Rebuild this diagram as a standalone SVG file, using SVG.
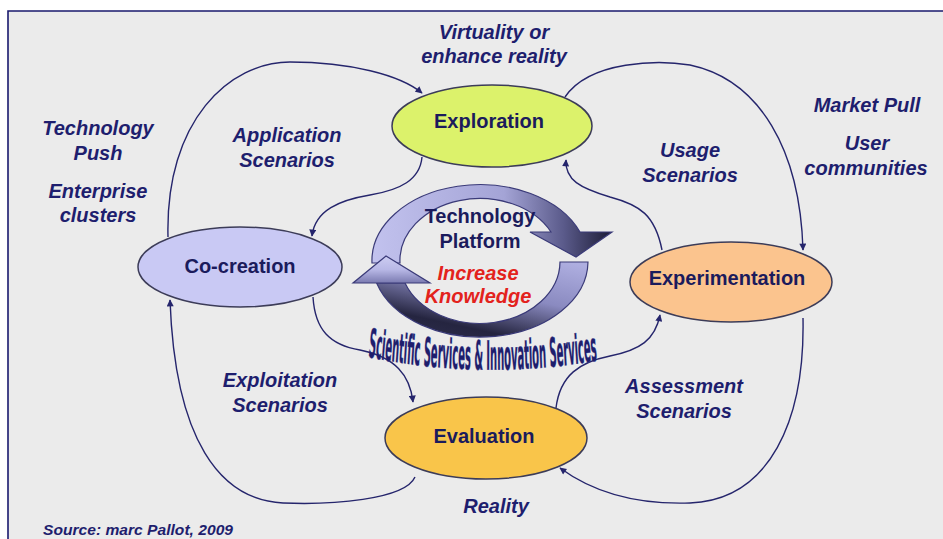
<svg xmlns="http://www.w3.org/2000/svg" width="943" height="539" viewBox="0 0 943 539">
<defs>
<style>
.node{stroke:#3c3c58;stroke-width:1.5}
.nt{font-family:"Liberation Sans",Arial,sans-serif;font-weight:bold;font-size:20px;fill:#1b1b5c;text-anchor:middle}
.lb{font-family:"Liberation Sans",Arial,sans-serif;font-weight:bold;font-style:italic;font-size:20px;fill:#1e1e6e;text-anchor:middle}
.red{font-family:"Liberation Sans",Arial,sans-serif;font-weight:bold;font-style:italic;font-size:20px;fill:#e3221c;text-anchor:middle}
.cn{fill:none;stroke:#25256c;stroke-width:1.4;marker-end:url(#ah)}
.ring{stroke:#3a3a78;stroke-width:1.2}
</style>
<marker id="ah" viewBox="0 0 10 10" refX="9" refY="5" markerWidth="8" markerHeight="7" markerUnits="userSpaceOnUse" orient="auto">
<path d="M0,0 L10,5 L0,10 Z" fill="#25256c"/>
</marker>
<linearGradient id="gTop" x1="0" y1="0" x2="1" y2="0">
<stop offset="0" stop-color="#c2c2ee"/>
<stop offset="0.55" stop-color="#a4a4d6"/>
<stop offset="0.8" stop-color="#5a5a8a"/>
<stop offset="1" stop-color="#1c1c36"/>
</linearGradient>
<linearGradient id="gBot" x1="0.9" y1="0" x2="0.3" y2="1">
<stop offset="0" stop-color="#aeaee0"/>
<stop offset="0.45" stop-color="#8a8ac0"/>
<stop offset="0.85" stop-color="#252540"/>
<stop offset="1" stop-color="#2a2a48"/>
</linearGradient>
<linearGradient id="gHead" x1="0" y1="1" x2="0" y2="0">
<stop offset="0" stop-color="#7a7ab0"/>
<stop offset="0.5" stop-color="#b8b8e6"/>
<stop offset="1" stop-color="#cdcdf2"/>
</linearGradient>
</defs>
<rect x="0" y="0" width="943" height="539" fill="#ffffff"/>
<rect x="8" y="11" width="935" height="528" fill="#ebebeb"/>
<path d="M8,539 L8,11 L943,11" fill="none" stroke="#1a1a6e" stroke-width="1.6"/>

<g id="connectors">
<path class="cn" d="M168,237 C165,120 230,62 290,62 C350,62 400,75 422,93"/>
<path class="cn" d="M422,157 C420,180 400,190 370,195 C340,200 315,210 312,236"/>
<path class="cn" d="M565,97 C590,60 660,60 690,65 C760,80 800,150 803,250"/>
<path class="cn" d="M662,250 C655,215 640,205 610,197 C580,188 565,180 566,160"/>
<path class="cn" d="M313,297 C315,330 330,345 360,350 C395,357 410,375 413,402"/>
<path class="cn" d="M415,477 C405,500 330,505 283,503 C220,500 175,440 170,300"/>
<path class="cn" d="M556,408 C560,375 580,362 610,356 C640,350 655,340 660,315"/>
<path class="cn" d="M803,318 C805,420 770,500 690,503 C630,505 590,490 560,468"/>
</g>

<g id="platform-cycle">
<path class="ring" fill="url(#gTop)" d="M372,263 A108,76 0 0,1 580,232 L612,232 L576,257 L530,232 L551,232 A80,62 0 0,0 400,263 Z"/>
<path class="ring" fill="url(#gBot)" d="M588,262 A108,76 0 0,1 376.6,283 L405,283 A80,62 0 0,0 560,262 Z"/>
<path class="ring" fill="url(#gHead)" d="M376.6,283 L353,283 L386,256 L430,283 L405,283 Z"/>
<text class="nt" x="480" y="223">Technology</text>
<text class="nt" x="480" y="248">Platform</text>
<text class="red" x="478" y="280">Increase</text>
<text class="red" x="478" y="303">Knowledge</text>
</g>

<g id="services-label">
<path id="arcPath" d="M368,238 Q484,254 600,240" fill="none"/>
<g transform="scale(1,1.5)">
<text font-family="'Liberation Sans Narrow','DejaVu Sans Condensed','Liberation Sans',sans-serif" font-weight="bold" font-size="27" fill="#1e1e6c" stroke="#3a3a90" stroke-width="0.3"><textPath href="#arcPath" textLength="230" lengthAdjust="spacingAndGlyphs">Scientific Services &amp; Innovation Services</textPath></text>
</g>
</g>

<g id="exploration">
<ellipse class="node" cx="492" cy="126" rx="100" ry="41" fill="#dcf26b"/>
<text class="nt" x="489" y="128">Exploration</text>
</g>
<g id="co-creation">
<ellipse class="node" cx="240" cy="267" rx="102" ry="40" fill="#c9c9f4"/>
<text class="nt" x="240" y="273">Co-creation</text>
</g>
<g id="experimentation">
<ellipse class="node" cx="731" cy="282" rx="101" ry="40" fill="#fbc48e"/>
<text class="nt" x="727" y="285">Experimentation</text>
</g>
<g id="evaluation">
<ellipse class="node" cx="486" cy="438" rx="101" ry="41" fill="#f9c54a"/>
<text class="nt" x="484" y="443">Evaluation</text>
</g>

<g id="labels">
<text class="lb" x="494" y="39">Virtuality or</text>
<text class="lb" x="494" y="63">enhance reality</text>
<text class="lb" x="98" y="135">Technology</text>
<text class="lb" x="98" y="160">Push</text>
<text class="lb" x="98" y="198">Enterprise</text>
<text class="lb" x="98" y="222">clusters</text>
<text class="lb" x="287" y="142">Application</text>
<text class="lb" x="287" y="167">Scenarios</text>
<text class="lb" x="690" y="157">Usage</text>
<text class="lb" x="690" y="182">Scenarios</text>
<text class="lb" x="867" y="112">Market Pull</text>
<text class="lb" x="867" y="150">User</text>
<text class="lb" x="866" y="175">communities</text>
<text class="lb" x="280" y="387">Exploitation</text>
<text class="lb" x="280" y="412">Scenarios</text>
<text class="lb" x="684" y="393">Assessment</text>
<text class="lb" x="684" y="418">Scenarios</text>
<text class="lb" x="496" y="513">Reality</text>
<text x="43" y="535" font-family="'Liberation Sans',Arial,sans-serif" font-weight="bold" font-style="italic" font-size="14" fill="#1e1e6e" textLength="190" lengthAdjust="spacingAndGlyphs">Source: marc Pallot, 2009</text>
</g>
</svg>
